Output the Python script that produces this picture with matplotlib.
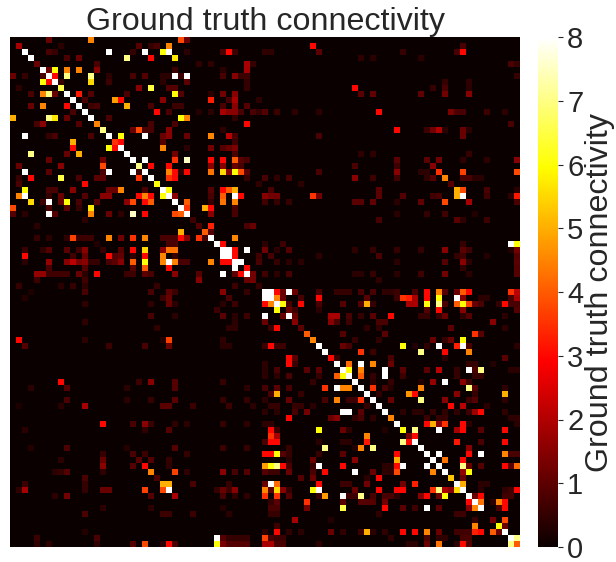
import numpy as np
import matplotlib
matplotlib.use("Agg")
import matplotlib.pyplot as plt

plt.rcParams['font.family'] = ['Liberation Sans', 'DejaVu Sans']

title_text = "Ground truth connectivity"
cbar_label = "Ground truth connectivity"
cbar_ticks = [0, 1, 2, 3, 4, 5, 6, 7, 8]
n_nodes = 85

# (column, value) pairs per matrix row; all other cells are close to zero
row_00 = [(6,1.5),(13,4.5),(28,3.8),(29,1.5)]
row_01 = [(1,2.5),(8,.5),(21,1.2),(23,.7),(24,1),(26,4.5),(50,3),(75,1)]
row_02 = [(2,8),(6,1),(7,.7),(16,8),(20,.7),(22,8),(25,6),(26,8),(29,.5),(35,1),(36,3),(37,.8),(42,.6),(43,.6),(51,1.3),(65,.7),(74,1),(75,3)]
row_03 = [(3,8),(9,1),(11,1.5),(19,7),(23,3),(27,5.7),(58,.6),(60,.5),(68,.5)]
row_04 = [(4,1.5),(14,1),(31,.6),(33,.6),(39,2.5),(40,.7),(83,1),(84,.7)]
row_05 = [(5,8),(6,1.5),(7,6),(9,4.5),(11,4.5),(14,2),(27,.8),(35,.5),(39,2.5)]
row_06 = [(0,1.5),(2,.7),(5,1),(6,8),(7,3),(9,7),(13,7),(16,.5),(20,1),(22,1.2),(25,.5),(26,.5),(27,8),(28,.8),(29,8),(35,1),(37,2),(38,.8),(39,.8),(84,.7)]
row_07 = [(5,6),(6,3),(7,8),(8,.7),(13,5.5),(16,.8),(25,.5),(29,1.3),(39,.7),(72,.7),(76,.6)]
row_08 = [(1,.5),(8,6.5),(21,2),(23,6.5),(26,1.2),(27,1.2),(39,.7),(57,3),(70,.7),(72,1),(76,.5)]
row_09 = [(3,1),(5,4.5),(6,7),(7,1.5),(9,8),(11,3.2),(13,1.2),(19,1),(27,6),(28,1.2),(33,.5),(35,1.7),(37,2),(58,1.3),(60,1.4),(68,1.4),(72,1.7),(76,2)]
row_10 = [(10,8),(12,1),(17,4.8),(18,3),(25,2),(33,3.3),(36,1),(37,2.5),(41,.5)]
row_11 = [(3,1.5),(5,4.5),(9,3),(11,8),(13,.8),(14,1),(19,5),(23,1),(27,.8),(28,.8),(35,1),(37,2),(39,1.2)]
row_12 = [(10,1),(12,8),(24,3),(26,1),(31,.4),(33,.5),(35,2.5),(36,2),(37,2),(38,1),(40,1),(41,.7),(42,1.2),(44,.8),(47,.5),(51,.5),(61,3),(73,1.8),(74,1),(75,1),(79,.8),(82,.5)]
row_13 = [(0,5),(6,7),(7,5.7),(9,1.5),(13,8),(16,1),(28,6),(29,4.5),(37,.6)]
row_14 = [(4,1),(5,2),(11,1.2),(14,4.5),(23,1),(27,1),(39,3),(83,1)]
row_15 = [(15,7),(20,1.5),(21,3.8),(22,1),(23,1),(26,2),(35,.6),(64,3),(69,.8),(70,1.7),(71,2.6),(72,.5),(75,1.5),(76,.5)]
row_16 = [(2,8),(6,.7),(7,1),(13,1),(16,8),(18,6),(22,8),(25,1.5),(26,2),(29,1.5),(33,4.5),(36,2.8),(37,1),(51,1),(75,1.5)]
row_17 = [(10,5),(17,3.5),(18,3),(25,1.2),(37,.8)]
row_18 = [(10,3),(16,6),(17,3),(18,8),(25,4.5),(29,.5),(33,1.7),(35,1.2),(36,1.5),(37,1.8)]
row_19 = [(3,7),(9,1.5),(11,5),(19,8),(27,1.7),(37,1),(58,.6),(60,.6),(76,.7)]
row_20 = [(6,1.5),(15,1.7),(20,8),(22,8),(27,3.5),(29,7.5),(33,3),(35,3),(37,4),(38,1.3),(39,1),(64,1.3),(69,1.3),(71,1.7),(75,.6),(79,.5),(84,2)]
row_21 = [(1,1.5),(8,2),(15,3.8),(21,7),(23,3),(26,3),(33,2),(35,2),(37,1.5),(38,1),(57,1),(64,.8),(70,2)]
row_22 = [(2,8),(6,1.3),(15,1),(16,8),(20,8),(21,.8),(22,8),(26,4.5),(27,3),(28,.5),(29,3),(33,4.3),(35,5.5),(36,2),(37,6),(38,3.8),(39,1.3),(51,1),(64,2),(68,.5),(69,.5),(71,3.5),(75,3.7),(84,3.8)]
row_23 = [(1,.7),(3,3),(8,6.5),(11,1),(14,1.3),(15,1.3),(21,3.5),(23,8),(26,3.5),(27,3),(39,.7),(42,1),(44,.6),(46,1),(57,2),(60,.8),(64,.9),(69,.6),(70,1.2),(72,4.5),(75,1),(76,1),(77,.5),(78,.5)]
row_24 = [(1,1),(12,3),(24,6),(41,.6),(48,.5),(73,1.2)]
row_25 = [(2,6),(6,1),(7,1),(10,2),(16,1.5),(17,1.5),(18,4.5),(22,1),(25,8),(26,6),(33,1.2),(35,3),(36,4),(37,5),(43,1),(61,1.3),(74,5),(75,3.8),(79,1),(84,.5)]
row_26 = [(1,4.5),(2,8),(6,.7),(8,1.5),(12,1.2),(15,2),(16,2),(21,3),(22,4.5),(23,3),(25,6),(26,8),(27,2),(33,1),(35,4),(37,8),(38,3),(42,2),(43,1.7),(44,1.7),(50,3.5),(51,1.7),(61,1.3),(65,1.2),(70,.9),(71,1),(74,5),(75,8),(79,.9),(83,.6),(84,3.2)]
row_27 = [(3,5.5),(5,.8),(6,8),(8,1.5),(9,6),(11,1),(14,1.3),(19,2),(20,3.8),(22,3),(23,4),(27,8),(29,4),(33,.7),(35,4.3),(37,4.5),(42,.9),(44,.7),(46,.7),(57,1.3),(58,1.3),(60,1.4),(64,.5),(68,1.4),(72,3.8),(76,2.5),(84,1)]
row_28 = [(0,3.8),(6,1),(9,1.3),(11,.7),(13,5.7),(28,8),(29,3.5),(32,5),(33,3),(37,1)]
row_29 = [(0,1.2),(2,.5),(6,8),(7,1.2),(13,4.5),(16,1.5),(18,.6),(20,7.5),(22,3),(27,3.8),(28,4),(29,8),(33,2),(37,1),(64,.5),(69,.7),(72,.9),(77,.4)]
row_30 = [(12,.5),(30,.8),(61,1),(74,1.3),(75,.6),(79,.8)]
row_31 = [(4,.5),(31,1.2),(33,3.3),(39,1),(40,1.5)]
row_32 = [(28,5),(32,4),(33,1.2)]
row_33 = [(4,.7),(6,.5),(9,.6),(10,3.7),(11,.8),(12,.8),(13,.8),(16,4.5),(18,1.7),(20,3.5),(22,4.5),(25,1),(26,1),(27,1),(28,3),(29,2),(31,3.5),(32,1),(33,8),(37,4.5)]
row_34 = [(14,.4),(26,1),(27,1),(34,8),(35,3),(42,.5),(45,.8),(75,.7),(83,8),(84,6)]
row_35 = [(2,.8),(5,.6),(6,1.2),(9,1.3),(11,.9),(12,2),(15,.7),(18,1.2),(20,3),(22,5.5),(25,2),(26,4.3),(27,4.3),(35,8),(36,8),(37,3),(39,8),(42,1.7),(44,.5),(46,1.2),(57,.6),(60,.7),(64,.7),(68,.7),(72,2),(75,1.3),(76,.9),(83,.4),(84,1.7)]
row_36 = [(2,3),(10,.9),(12,1.5),(16,3),(17,1.2),(18,1.4),(20,.6),(22,3),(25,4.5),(27,.7),(35,8),(36,8),(37,3),(41,.9),(43,1),(51,.5),(61,1),(74,.7),(75,.9),(79,.4),(84,1.2)]
row_37 = [(2,.5),(6,2.2),(9,2),(10,2.8),(11,1.8),(12,2),(13,.7),(14,.7),(16,1),(17,1.3),(18,2),(20,4),(22,6),(25,4.5),(26,8),(27,4.5),(28,1),(29,1),(33,4.5),(35,3),(36,3),(37,8),(38,8),(41,1),(44,.7),(46,.5),(48,.5),(64,.5),(72,1.2),(75,2),(76,.5),(84,1.3)]
row_38 = [(6,1),(12,1.2),(20,1.2),(22,4),(26,3),(37,8),(39,3),(75,.6),(84,1.2)]
row_39 = [(4,2.2),(5,2.2),(6,.9),(7,.9),(8,.9),(9,.9),(11,1.5),(12,.5),(14,3),(19,.8),(20,.8),(22,1.3),(23,1),(27,2),(31,1.2),(35,8),(37,1.3),(38,3),(39,8),(40,1.7),(42,.9),(44,.5),(46,1),(57,.5),(58,.5),(60,.7),(64,.5),(68,.9),(72,1.7),(76,.5),(84,1.2)]
row_40 = [(4,.8),(12,.9),(31,2),(39,1.5),(40,1.7),(61,.6)]
row_41 = [(1,.7),(8,.5),(10,.7),(12,.6),(24,.7),(37,.8),(41,.7)]
row_42 = [(3,.3),(12,1),(23,1),(26,1.3),(27,.8),(35,2),(39,.7),(42,8),(43,8),(44,3),(45,1.5),(46,8),(47,1.5),(51,1),(54,.7),(55,.7),(56,.7),(58,1),(60,1),(62,.6),(63,.6),(64,.8),(67,1),(69,3),(71,4.5),(72,1.2),(74,1.5),(75,4),(76,3),(83,3.5),(84,2.8)]
row_43 = [(2,.4),(25,.8),(26,1.5),(36,1),(42,8),(43,8),(44,4.5),(45,1.5),(48,1),(51,3),(59,1.3),(64,.8),(65,3.5),(66,3.3),(67,2.5),(69,3),(71,6),(74,8),(75,2),(78,.5),(79,.5),(83,1),(84,2.5)]
row_44 = [(12,.6),(23,.6),(26,1.5),(27,.5),(35,.5),(37,.8),(42,3),(43,4.5),(44,8),(45,6),(46,1),(48,3),(51,1),(55,1.2),(58,1.2),(59,5),(60,.7),(66,2.5),(67,2.5),(69,6),(71,7),(72,1),(74,4),(75,6),(76,3.7),(77,1.5),(78,1),(81,.7),(82,3),(83,1),(84,1)]
row_45 = [(34,.8),(44,6),(46,1.5),(47,.8),(51,.5),(69,1.2),(71,3),(75,2),(84,1.2)]
row_46 = [(23,1),(27,.5),(35,1.3),(37,.5),(39,.8),(42,8),(45,1.5),(46,8),(47,1.5),(53,2.5),(54,2.5),(56,1),(58,.7),(60,1.3),(63,3),(68,.7),(69,.7),(71,.7),(72,1.5),(75,.6),(76,1.2),(82,.5)]
row_47 = [(12,.6),(37,.5),(42,1.5),(47,2),(53,2),(54,1),(56,.8),(61,1),(62,1),(80,2)]
row_48 = [(24,.6),(36,.6),(37,.6),(43,.8),(44,3),(48,1.3),(59,.6),(61,.6),(73,1.3),(82,.5)]
row_49 = [(49,4),(55,1.2),(62,1.3),(77,3.5),(78,1.3)]
row_50 = [(1,3),(12,.5),(25,.4),(26,3.7),(35,.6),(50,4.5),(57,.7),(61,.6),(70,1.5),(72,.7),(73,1.5),(75,6)]
row_51 = [(2,1.2),(16,.8),(22,1),(26,1.5),(35,.5),(36,.5),(42,.8),(43,3),(44,.8),(45,.8),(51,8),(55,1.5),(56,1),(65,6),(67,.4),(69,.6),(71,8),(74,3.3),(75,8),(76,1),(84,.5)]
row_52 = [(52,8),(58,3.5),(60,.8),(68,7),(72,3),(76,4.5)]
row_53 = [(46,3),(47,1.3),(53,3),(54,.7),(63,1),(72,.5),(82,1.3)]
row_54 = [(42,.5),(46,3),(47,.8),(54,8),(56,4.2),(58,8),(60,4.5),(63,1.5),(76,.7),(77,.7),(80,.4)]
row_55 = [(42,.5),(44,1),(49,1.3),(51,1.3),(55,8),(56,6),(58,4.5),(62,8),(65,1.3),(69,1.3),(71,2.8),(74,.7),(76,8),(77,1),(78,7),(83,.5),(84,.5)]
row_56 = [(42,.5),(44,.5),(46,1),(51,.7),(54,4),(55,6),(56,8),(58,4),(60,.7),(62,8),(65,.8),(74,.7),(77,.7),(78,.7)]
row_57 = [(8,3),(21,.8),(23,2),(27,1.2),(35,.7),(50,.7),(57,8),(60,.5),(63,.7),(68,.4),(70,2.2),(72,8),(75,2),(76,.8)]
row_58 = [(3,.5),(9,1.2),(19,.5),(27,1.2),(39,.5),(42,1),(44,1.3),(46,1),(52,3.5),(54,8),(55,4.5),(56,4.5),(58,8),(60,3.5),(62,1),(63,.4),(68,4.5),(76,7),(77,1.2),(82,.6)]
row_59 = [(43,1),(44,5),(48,.7),(59,8),(61,.6),(66,4.7),(67,3),(74,2),(77,.7),(82,5)]
row_60 = [(9,1),(19,.5),(23,.7),(27,1.3),(35,.7),(39,.7),(42,.5),(46,1.5),(52,1),(54,4.5),(56,.8),(57,.8),(58,3.5),(60,8),(63,1.5),(68,7),(72,2),(76,.8),(77,1.2),(82,.5)]
row_61 = [(1,.3),(8,.5),(12,2.5),(25,1.3),(26,1.3),(30,.8),(36,.8),(40,.5),(43,.7),(44,.7),(47,.7),(48,.7),(50,.5),(59,.7),(61,8),(73,3),(75,2.8),(79,.5)]
row_62 = [(42,.5),(44,.5),(47,1),(49,1.7),(55,8),(56,8),(58,1.3),(62,8),(65,.5),(67,.5),(68,.5),(70,.7),(72,.6),(74,.6),(76,.8),(77,2.3),(78,3),(82,.6)]
row_63 = [(46,3),(53,1.5),(54,2),(57,.6),(58,1),(60,.6),(63,4.5),(69,.8),(71,.7),(72,.7),(83,.6),(84,.6)]
row_64 = [(15,3),(20,1),(22,2),(23,.8),(27,.6),(29,.5),(35,.7),(39,.5),(42,.6),(43,.6),(64,8),(69,3),(70,5),(71,2),(72,3.5),(75,3),(76,.5),(84,.5)]
row_65 = [(2,.5),(22,.6),(26,1.2),(43,3),(44,.8),(51,6),(55,1.5),(56,.6),(62,.4),(65,6),(67,7),(71,8),(74,2.5),(75,3),(78,1.3),(82,3)]
row_66 = [(43,3.5),(44,2.5),(59,4.5),(66,1.7),(67,3)]
row_67 = [(42,1),(43,3),(44,3),(51,.5),(55,.5),(56,.5),(59,3.2),(65,7),(66,3),(67,8),(74,3.2),(78,1),(82,3)]
row_68 = [(3,.4),(9,1),(19,.4),(27,1.2),(35,.8),(39,.7),(46,.7),(52,7),(57,.4),(58,4.5),(60,7),(68,8),(76,2)]
row_69 = [(15,.7),(20,1),(22,.8),(29,.7),(42,3),(43,3),(44,6),(45,1.2),(46,.7),(51,.7),(55,1.3),(64,3),(69,8),(71,8),(76,3),(78,8),(82,4.5),(83,1),(84,1)]
row_70 = [(8,.5),(15,1.5),(21,1.3),(23,1.2),(26,.7),(46,.5),(50,1.5),(57,2),(64,5),(70,8),(72,4.3),(75,3)]
row_71 = [(15,2),(20,1.2),(22,3),(26,.6),(42,4.8),(43,6),(44,7),(45,3),(46,1),(50,.7),(51,8),(55,3),(62,.5),(63,.5),(64,3),(65,8),(69,8),(71,8),(75,7),(76,1.5),(78,1.2),(82,3),(83,1.3),(84,4.2)]
row_72 = [(7,.5),(8,.7),(9,1.2),(15,.6),(23,4.5),(27,3.7),(29,.6),(35,2),(37,1),(39,1.2),(42,1.2),(43,.8),(44,.8),(46,1.5),(50,1),(52,3),(57,8),(60,1.5),(62,.6),(63,.6),(64,3.8),(70,4.5),(72,8),(75,2.2),(76,6)]
row_73 = [(12,1),(24,1),(48,1.2),(50,1.5),(59,.5),(61,3),(73,5.3),(75,1.5)]
row_74 = [(2,.8),(12,.7),(25,5),(26,5),(30,1),(36,.7),(42,1.5),(43,8),(44,4.2),(51,3),(55,.8),(56,.8),(59,1.7),(65,1.7),(67,3.3),(74,8),(75,5),(78,.5),(79,.5)]
row_75 = [(1,.6),(2,2.5),(12,.7),(15,1.5),(16,1.5),(22,3.7),(25,3.8),(26,8),(34,.7),(35,1.5),(36,.9),(37,2),(42,4.5),(43,1.3),(44,5.5),(45,2),(46,.7),(50,6),(51,8),(57,1.5),(61,3),(64,3),(65,3),(70,3.5),(71,7),(72,2.5),(73,2),(74,5.5),(75,8),(78,.5),(82,.6),(83,.9),(84,3)]
row_76 = [(7,.5),(9,1.7),(23,1.2),(27,2.5),(35,1),(37,.6),(39,.6),(42,3.5),(44,3.5),(46,1.2),(51,.7),(52,4.8),(55,8),(56,.8),(57,.8),(58,7),(60,1),(62,1),(63,1),(64,.5),(68,2),(69,3),(71,1.5),(72,6),(76,8),(77,1.5),(78,3),(82,.9),(83,.9)]
row_77 = [(43,.7),(44,1.3),(49,3.5),(55,1.3),(58,1.2),(59,1.2),(60,1.2),(62,1.7),(76,3),(77,8),(78,4.3),(80,.5),(81,4.5),(82,3)]
row_78 = [(15,.5),(23,.5),(35,.4),(43,1),(44,1),(49,1.7),(55,6.5),(62,3),(65,1.3),(67,.9),(69,8),(71,1.3),(76,2),(77,4.5),(78,8),(81,1),(82,3)]
row_79 = [(12,1),(25,.8),(26,.8),(30,.8),(36,.5),(43,.7),(44,.7),(61,.6),(74,.8),(75,.8)]
row_80 = [(47,2.5),(53,.4),(77,.7),(80,1.7),(82,3.8)]
row_81 = [(44,.8),(77,4.5),(81,6),(82,1.5)]
row_82 = [(12,.4),(42,.5),(44,3),(46,.6),(48,.5),(53,1.5),(55,.6),(58,.8),(59,5),(60,.5),(62,.6),(65,3),(67,3),(69,4.5),(71,1.5),(74,.9),(75,.9),(76,.9),(77,3.3),(78,3),(80,4),(81,1.5),(82,8)]
row_83 = [(4,.8),(14,1),(34,8),(35,1.2),(36,.7),(37,.7),(38,.7),(39,.7),(42,3.7),(43,1),(44,.8),(45,.8),(63,.6),(69,1),(71,.6),(72,.6),(75,1),(76,1),(83,8),(84,7)]
row_84 = [(4,.6),(6,.6),(14,.6),(20,1.2),(22,3.8),(25,.6),(26,3),(27,1),(34,6),(35,1.8),(36,1.2),(37,1.2),(38,1.2),(39,1.2),(42,2.5),(43,2.5),(44,1),(45,1),(51,.5),(66,.5),(67,.5),(69,1.5),(71,4.3),(74,.6),(75,3),(76,1.2),(83,7),(84,4)]

# my readings of the dim cells came out too bright against the colour bar
dim_limit = 3.0
dim_gain = 0.75

all_rows = [globals()[f"row_{i:02d}"] for i in range(n_nodes)]
matrix = np.zeros((n_nodes, n_nodes))
for r, row in enumerate(all_rows):
    for c, v in row:
        matrix[r, c] = v * dim_gain if v < dim_limit else v

W, H = 616, 562
fig = plt.figure(figsize=(W / 100, H / 100), dpi=100)
ax = fig.add_axes([10 / W, 1 - 547 / H, 510 / W, 510 / H])
im = ax.imshow(matrix, cmap="hot", vmin=0, vmax=8, aspect="auto", interpolation="nearest")
ax.set_xticks([])
ax.set_yticks([])
for s in ax.spines.values():
    s.set_visible(False)
ax.set_title(title_text, fontsize=23.2, color="#262626", pad=2)

cax = fig.add_axes([538 / W, 1 - 547 / H, 20 / W, 510 / H])
cb = fig.colorbar(im, cax=cax, ticks=cbar_ticks)
cb.outline.set_visible(False)
cb.ax.tick_params(labelsize=21, length=3.6, width=0.8, color="#262626", labelcolor="#262626", pad=3)
cb.set_label(cbar_label, fontsize=23.2, color="#262626", labelpad=1)

fig.savefig("out.png", dpi=100)
